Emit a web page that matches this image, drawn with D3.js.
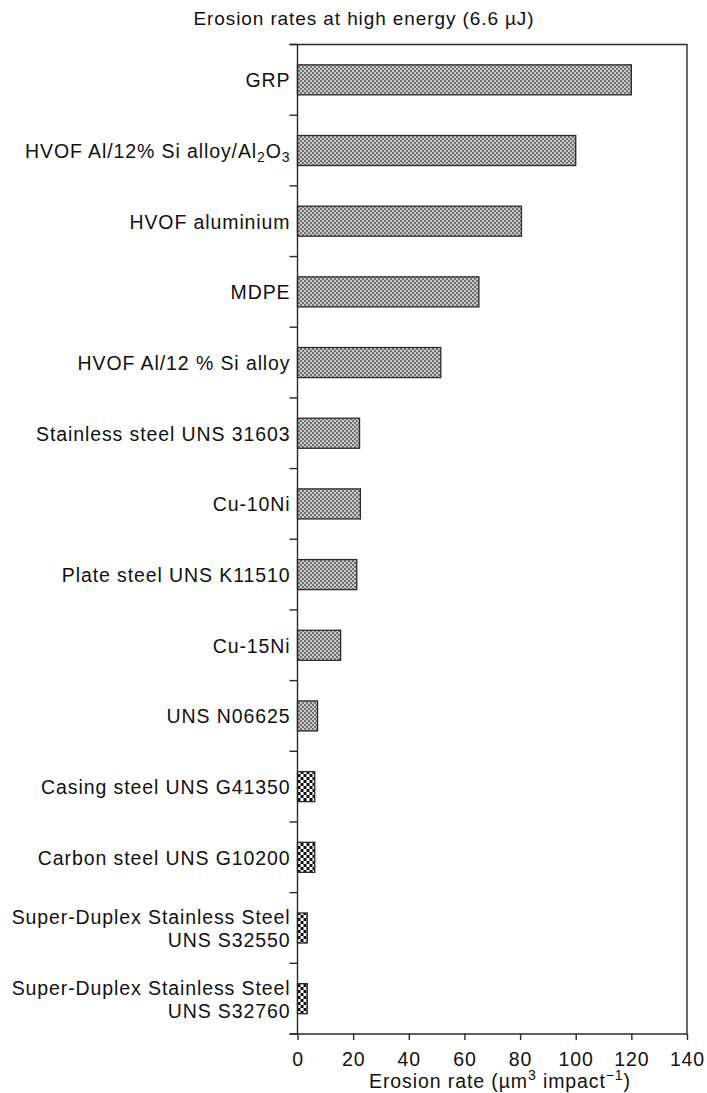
<!DOCTYPE html>
<html>
<head>
<meta charset="utf-8">
<script src="https://cdn.jsdelivr.net/npm/d3@7"></script>
<style>
  html, body { margin: 0; padding: 0; background: #fff; }
  svg { display: block; font-family: "Liberation Sans", Arial, sans-serif; }
  text { letter-spacing: 0.9px; }
</style>
</head>
<body>
<svg id="chart" width="707" height="1093"></svg>
<script>
// Erosion rate per material at 6.6 µJ impact energy
const categories = [
  "GRP",
  "HVOF Al/12% Si alloy/Al2O3",
  "HVOF aluminium",
  "MDPE",
  "HVOF Al/12 % Si alloy",
  "Stainless steel UNS 31603",
  "Cu-10Ni",
  "Plate steel UNS K11510",
  "Cu-15Ni",
  "UNS N06625",
  "Casing steel UNS G41350",
  "Carbon steel UNS G10200",
  "Super-Duplex Stainless Steel UNS S32550",
  "Super-Duplex Stainless Steel UNS S32760"
];
const erosionRates = [120, 100, 80.5, 65.2, 51.5, 22.3, 22.6, 21.3, 15.5, 7.2, 6.2, 6.2, 3.5, 3.5];
const xTicks = [0, 20, 40, 60, 80, 100, 120, 140];

// How each category label is written (line breaks and subscripts)
const labelLines = {
  "HVOF Al/12% Si alloy/Al2O3": [[["HVOF Al/12% Si alloy/Al", ""], ["2", "sub"], ["O", ""], ["3", "sub"]]],
  "Super-Duplex Stainless Steel UNS S32550": [[["Super-Duplex Stainless Steel", ""]], [["UNS S32550", ""]]],
  "Super-Duplex Stainless Steel UNS S32760": [[["Super-Duplex Stainless Steel", ""]], [["UNS S32760", ""]]]
};
// Narrow bars render with the coarse checker fill
const coarseFill = new Set(categories.slice(10));

const svg = d3.select("#chart");
const margin = { left: 297.5, right: 20, top: 44.5, bottom: 59 };
const W = 707, H = 1093;
const x0 = margin.left, x1 = W - margin.right, y0 = margin.top, y1 = H - margin.bottom;
const fs = 19.5;

const x = d3.scaleLinear().domain([0, 140]).range([x0, x1]);
const y = d3.scaleBand().domain(categories).range([y0, y1]).paddingInner(0.575).paddingOuter(0.2875);
const yb = d3.scaleBand().domain(categories).range([y0, y1]).padding(0);

const ink = "#2a2a2a";
const defs = svg.append("defs");
const fine = defs.append("pattern").attr("id", "fine").attr("patternUnits", "userSpaceOnUse")
  .attr("width", 4).attr("height", 4);
fine.append("rect").attr("width", 4).attr("height", 4).attr("fill", "#c9c9c9");
fine.append("rect").attr("x", 0).attr("y", 0).attr("width", 2).attr("height", 2).attr("fill", "#737373");
fine.append("rect").attr("x", 2).attr("y", 2).attr("width", 2).attr("height", 2).attr("fill", "#737373");

const coarse = defs.append("pattern").attr("id", "coarse").attr("patternUnits", "userSpaceOnUse")
  .attr("width", 6).attr("height", 6).attr("x", x0).attr("y", 0);
coarse.append("rect").attr("width", 6).attr("height", 6).attr("fill", "#fff");
coarse.append("rect").attr("x", 0).attr("y", 0).attr("width", 3).attr("height", 3).attr("fill", "#111");
coarse.append("rect").attr("x", 3).attr("y", 3).attr("width", 3).attr("height", 3).attr("fill", "#111");

// Title
svg.append("text").attr("x", 364).attr("y", 25).attr("text-anchor", "middle")
  .attr("font-size", 19).attr("letter-spacing", "0.5px").attr("fill", "#111")
  .text("Erosion rates at high energy (6.6 \u00b5J)");

// Bars
svg.append("g").selectAll("rect").data(categories).join("rect")
  .attr("x", x(0))
  .attr("y", d => y(d))
  .attr("width", (d, i) => x(erosionRates[i]) - x(0))
  .attr("height", y.bandwidth())
  .attr("fill", d => coarseFill.has(d) ? "url(#coarse)" : "url(#fine)")
  .attr("stroke", ink).attr("stroke-width", 1.3);

// Frame: top and right edges
svg.append("path")
  .attr("d", `M${x0 - 8},${y0}H${x1}V${y1}`)
  .attr("fill", "none").attr("stroke", ink).attr("stroke-width", 1.4);

// Left axis with ticks at band boundaries
const gy = svg.append("g");
gy.append("line").attr("x1", x0).attr("x2", x0).attr("y1", y0).attr("y2", y1)
  .attr("stroke", ink).attr("stroke-width", 1.4);
const bounds = categories.map(c => yb(c)).concat([y1]);
gy.selectAll("line.tk").data(bounds).join("line").attr("class", "tk")
  .attr("x1", x0 - 8).attr("x2", x0).attr("y1", d => d).attr("y2", d => d)
  .attr("stroke", ink).attr("stroke-width", 1.4);

// Category labels
const lab = svg.append("g").attr("font-size", fs).attr("fill", "#111").attr("text-anchor", "end");
categories.forEach(c => {
  const lines = labelLines[c] || [[[c, ""]]];
  const cy = yb(c) + yb.bandwidth() / 2;
  const lh = 23;
  lines.forEach((parts, li) => {
    const t = lab.append("text").attr("x", x0 - 7)
      .attr("y", cy + 7.5 + (li - (lines.length - 1) / 2) * lh);
    parts.forEach(([s, kind]) => {
      const ts = t.append("tspan").text(s);
      if (kind === "sub") ts.attr("font-size", 14).attr("dy", 4);
      else if (t.selectAll("tspan").size() > 1) ts.attr("dy", -4);
    });
  });
});

// Bottom axis
const gx = svg.append("g").attr("transform", `translate(0,${y1})`)
  .call(d3.axisBottom(x).tickValues(xTicks).tickSize(6).tickPadding(12).tickFormat(d3.format("d")));
gx.select(".domain").attr("d", `M${x0 - 8},0H${x1}`).attr("stroke", ink).attr("stroke-width", 1.4);
gx.selectAll(".tick line").attr("stroke", ink).attr("stroke-width", 1.4);
gx.selectAll(".tick text").attr("font-size", fs).attr("fill", "#111")
  .attr("font-family", "'Liberation Sans', Arial, sans-serif");

// Axis title with superscripts
const at = svg.append("text").attr("x", 500).attr("y", 1088).attr("text-anchor", "middle")
  .attr("font-size", fs).attr("fill", "#111");
at.append("tspan").text("Erosion rate (\u00b5m");
at.append("tspan").text("3").attr("font-size", 14).attr("dy", -8);
at.append("tspan").text(" impact").attr("dy", 8);
at.append("tspan").text("\u22121").attr("font-size", 14).attr("dy", -8);
at.append("tspan").text(")").attr("dy", 8);
</script>
</body>
</html>
